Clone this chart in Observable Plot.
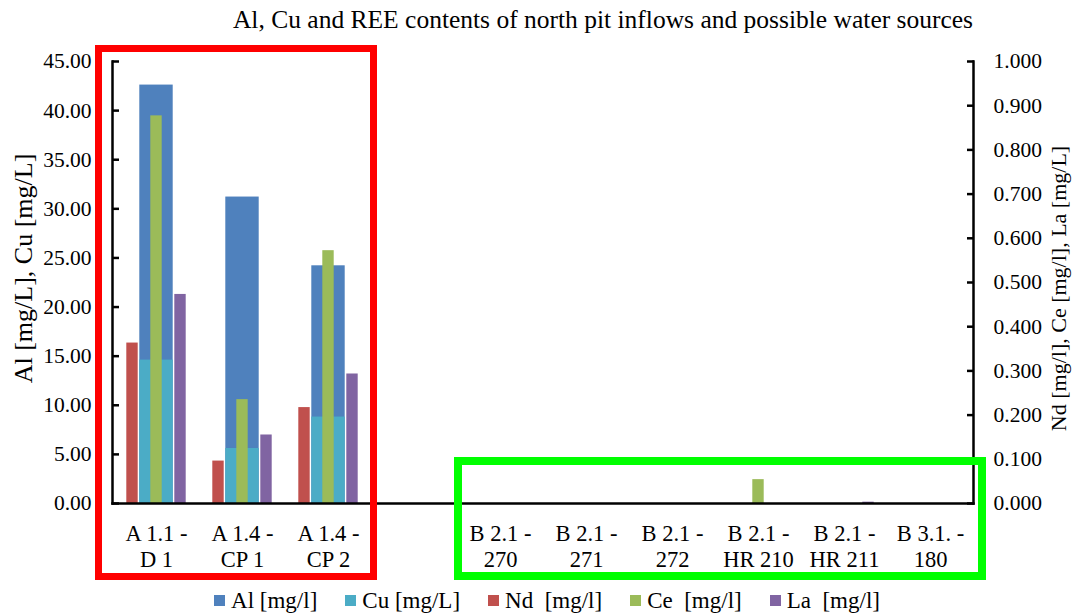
<!DOCTYPE html>
<html>
<head>
<meta charset="utf-8">
<script src="https://cdn.jsdelivr.net/npm/d3@7"></script>
<script src="https://cdn.jsdelivr.net/npm/@observablehq/plot@0.6"></script>
<style>
  html, body { margin: 0; padding: 0; background: #fff; }
  #wrap { position: relative; width: 1082px; height: 616px; overflow: hidden; font-family: "Liberation Serif", "Times New Roman", Times, "DejaVu Serif", serif; color: #000; }
  #title { height: 40px; line-height: 40px; font-size: 25.5px; text-align: center; padding-left: 124px; box-sizing: border-box; white-space: nowrap; }
  #chart svg { display: block; }
  #legend { display: flex; justify-content: center; align-items: center; height: 31px; font-size: 23px; white-space: pre; padding-left: 12px; box-sizing: border-box; }
  #legend .item { display: flex; align-items: center; margin: 0 14px; }
  #legend .sw { width: 11px; height: 11px; margin-right: 6px; }
  .box { position: absolute; box-sizing: border-box; pointer-events: none; }
</style>
</head>
<body>
<div id="wrap">
  <div id="title"></div>
  <div id="chart"></div>
  <div id="legend"></div>
</div>
<script>
// ---- data ----
const titleText = "Al, Cu and REE contents of north pit inflows and possible water sources";
const categories = ["A 1.1 -\nD 1", "A 1.4 -\nCP 1", "A 1.4 -\nCP 2", " ", "B 2.1 -\n270", "B 2.1 -\n271", "B 2.1 -\n272", "B 2.1 -\nHR 210", "B 2.1 -\nHR 211", "B 3.1. -\n180"];
const al = [42.6, 31.2, 24.2, null, 0, 0, 0, 0, 0, 0];
const cu = [14.6, 5.6, 8.8, null, 0, 0, 0, 0, 0, 0];
const nd = [0.363, 0.096, 0.217, null, 0, 0, 0, 0, 0, 0];
const ce = [0.877, 0.235, 0.572, null, 0, 0, 0, 0.054, 0, 0];
const la = [0.473, 0.155, 0.293, null, 0, 0, 0, 0, 0.003, 0];
const leftTicks = [0, 5, 10, 15, 20, 25, 30, 35, 40, 45];
const rightTicks = [0, 0.1, 0.2, 0.3, 0.4, 0.5, 0.6, 0.7, 0.8, 0.9, 1.0];
const leftTitle = "Al [mg/L], Cu [mg/L]";
const rightTitle = "Nd [mg/l], Ce [mg/l], La [mg/L]";
const seriesNames = ["Al [mg/l]", "Cu [mg/L]", "Nd  [mg/l]", "Ce  [mg/l]", "La  [mg/l]"];
const seriesColors = ["#4F81BD", "#4BACC6", "#C0504D", "#9BBB59", "#8064A2"];

// ---- layout ----
const W = 1082, H = 545;
const mL = 112, mR = 109, mT = 21, mB = 82;
const leftMax = 45, rightMax = 1;
const k = leftMax / rightMax;
const bw = (W - mL - mR) / categories.length;
const serif = "'Liberation Serif', 'Times New Roman', Times, 'DejaVu Serif', serif";

const rows = (vals, name) => categories.map((c, i) => ({cat: c, v: vals[i], name})).filter(d => d.v != null);
const alRows = rows(al, seriesNames[0]);
const cuRows = rows(cu, seriesNames[1]);
const ndRows = rows(nd, seriesNames[2]);
const ceRows = rows(ce, seriesNames[3]);
const laRows = rows(la, seriesNames[4]);

// bar widths/offsets (style)
const wide = 33.5, narrow = 11.5, step = 24;
const wideInset = (bw - wide) / 2;
const secInset = off => ({insetLeft: bw / 2 + off - narrow / 2, insetRight: bw / 2 - off - narrow / 2});
const txt = size => ({fill: "#000", fontFamily: serif, fontSize: size});

const chart = Plot.plot({
  width: W, height: H,
  marginLeft: mL, marginRight: mR, marginTop: mT, marginBottom: mB,
  style: {fontFamily: serif, fontSize: "21px", color: "#000", background: "transparent"},
  x: {domain: categories, padding: 0, label: null, axis: null},
  y: {domain: [0, leftMax], label: null, axis: null},
  marks: [
    Plot.barY(alRows, {x: "cat", y: "v", fill: seriesColors[0], insetLeft: wideInset, insetRight: wideInset}),
    Plot.barY(cuRows, {x: "cat", y: "v", fill: seriesColors[1], insetLeft: wideInset, insetRight: wideInset}),
    Plot.barY(ndRows, {x: "cat", y: d => d.v * k, fill: seriesColors[2], ...secInset(-step)}),
    Plot.barY(ceRows, {x: "cat", y: d => d.v * k, fill: seriesColors[3], ...secInset(0)}),
    Plot.barY(laRows, {x: "cat", y: d => d.v * k, fill: seriesColors[4], ...secInset(step)}),
    // axis lines
    Plot.frame({anchor: "left", stroke: "#000", strokeWidth: 2.5}),
    Plot.frame({anchor: "right", stroke: "#000", strokeWidth: 2.5}),
    Plot.frame({anchor: "bottom", stroke: "#000", strokeWidth: 2.5}),
    // left axis: inward ticks, then labels
    Plot.axisY({anchor: "left", ticks: leftTicks, tickSize: -7, strokeWidth: 2.5, stroke: "#000", tickFormat: () => "", label: null}),
    Plot.axisY({anchor: "left", ticks: leftTicks, tickSize: 0, tickPadding: 21, tickFormat: d => d.toFixed(2), label: null, ...txt(21.5)}),
    // right axis (secondary values mapped onto the primary scale)
    Plot.axisY({anchor: "right", ticks: rightTicks.map(t => t * k), tickSize: -7, strokeWidth: 2.5, stroke: "#000", tickFormat: () => "", label: null}),
    Plot.axisY({anchor: "right", ticks: rightTicks.map(t => t * k), tickSize: 0, tickPadding: 20, tickFormat: d => (d / k).toFixed(3), label: null, ...txt(21.5)}),
    // x axis labels
    Plot.axisX({anchor: "bottom", tickSize: 0, tickPadding: 20, lineHeight: 1.12, tickFormat: d => d, label: null, ...txt(22.5)}),
    // axis titles
    Plot.text([leftTitle], {frameAnchor: "left", dx: -89, dy: -14, rotate: -90, textAnchor: "middle", lineAnchor: "middle", ...txt(26)}),
    Plot.text([rightTitle], {frameAnchor: "right", dx: 85, dy: 6, rotate: -90, textAnchor: "middle", lineAnchor: "middle", ...txt(22)})
  ]
});
document.getElementById("chart").appendChild(chart);
document.getElementById("title").textContent = titleText;

const legend = document.getElementById("legend");
seriesNames.forEach((n, i) => {
  const it = document.createElement("div");
  it.className = "item";
  const sw = document.createElement("div");
  sw.className = "sw";
  sw.style.background = seriesColors[i];
  const tx = document.createElement("span");
  tx.textContent = n;
  it.appendChild(sw); it.appendChild(tx);
  legend.appendChild(it);
});

// annotation boxes (highlighting the two groups)
const wrap = document.getElementById("wrap");
function addBox(left, top, right, bottom, color, bwid) {
  const b = document.createElement("div");
  b.className = "box";
  Object.assign(b.style, {left: left + "px", top: top + "px", width: (right - left) + "px", height: (bottom - top) + "px", border: bwid + "px solid " + color});
  wrap.appendChild(b);
}
addBox(95, 45, 377, 580, "#FF0000", 7);
addBox(454, 457, 986, 580, "#00FF00", 8);
</script>
</body>
</html>
